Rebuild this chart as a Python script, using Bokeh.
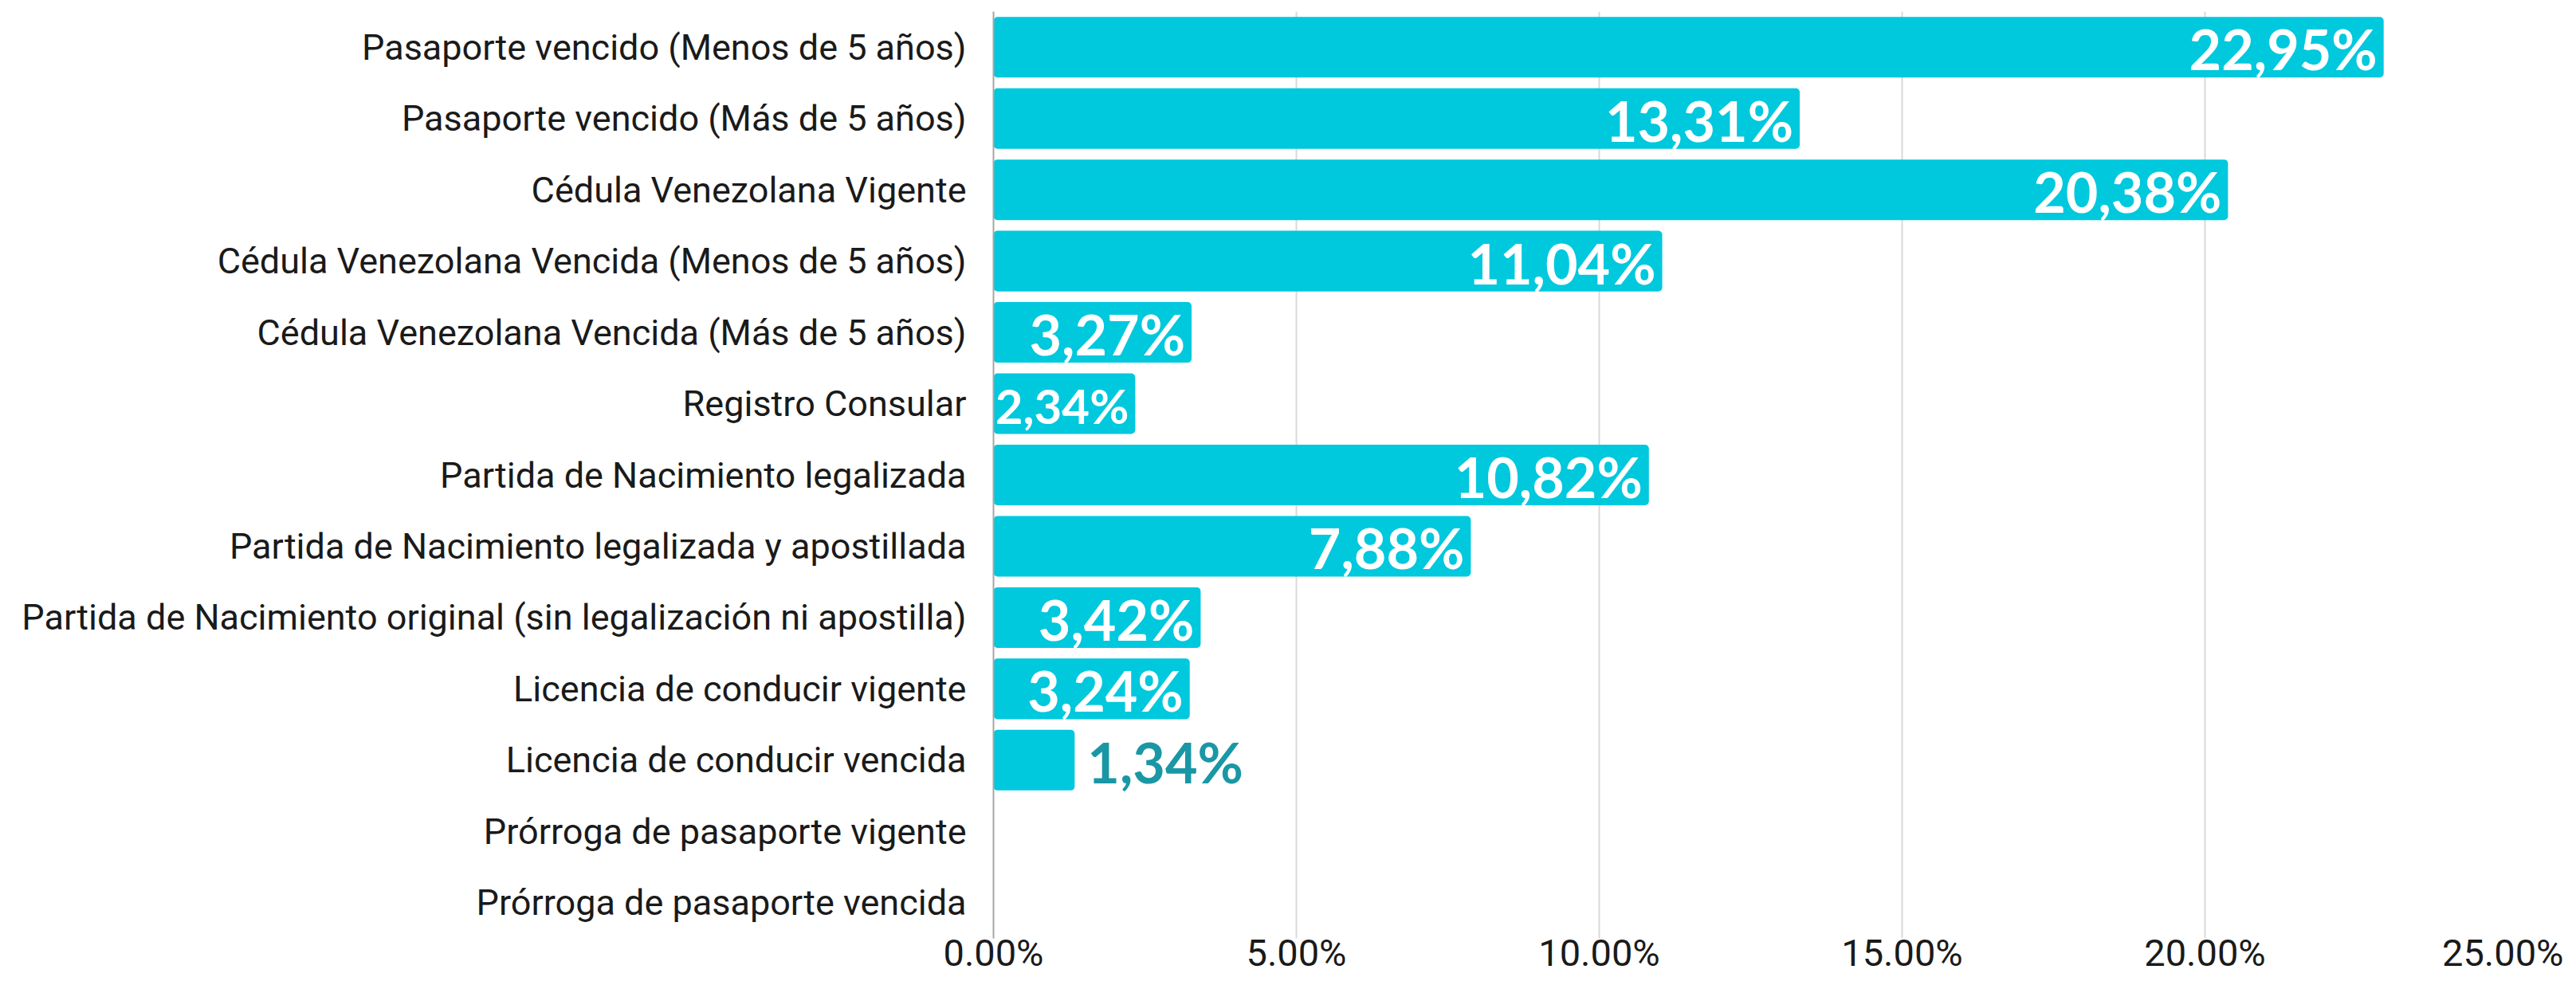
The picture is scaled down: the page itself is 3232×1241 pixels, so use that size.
from bokeh.plotting import figure
from bokeh.models import ColumnDataSource, FactorRange, FixedTicker, CustomJSTickFormatter
from bokeh.core.properties import value
from bokeh.embed import file_html
from bokeh.resources import INLINE

categories = [
    "Pasaporte vencido (Menos de 5 años)",
    "Pasaporte vencido (Más de 5 años)",
    "Cédula Venezolana Vigente",
    "Cédula Venezolana Vencida (Menos de 5 años)",
    "Cédula Venezolana Vencida (Más de 5 años)",
    "Registro Consular",
    "Partida de Nacimiento legalizada",
    "Partida de Nacimiento legalizada y apostillada",
    "Partida de Nacimiento original (sin legalización ni apostilla)",
    "Licencia de conducir vigente",
    "Licencia de conducir vencida",
    "Prórroga de pasaporte vigente",
    "Prórroga de pasaporte vencida",
]
values = [22.95, 13.31, 20.38, 11.04, 3.27, 2.34, 10.82, 7.88, 3.42, 3.24, 1.34, 0.0, 0.0]
x_ticks = [0, 5, 10, 15, 20, 25]

BAR = "#00C8DD"
TEAL = "#1A97A5"

p = figure(
    width=3216, height=1225,
    y_range=FactorRange(factors=list(reversed(categories))),
    x_range=(0, 25),
    output_backend="svg", toolbar_location=None,
    min_border_left=1246, min_border_right=70, min_border_top=14, min_border_bottom=0,
)
p.outline_line_color = None
p.background_fill_color = "white"
p.border_fill_color = "white"

src = ColumnDataSource(dict(cat=categories, val=values))
p.hbar(y="cat", right="val", left=0, height=0.85, source=src,
       fill_color=BAR, line_color=None, border_radius=5)

# labels
in_x, in_y, in_t, in_fs = [], [], [], []
out_x, out_y, out_t = [], [], []
for c, v in zip(categories, values):
    if v <= 0:
        continue
    t = f"{v:.2f}".replace(".", ",") + "%"
    if v < 2:
        out_x.append(v); out_y.append(c); out_t.append(t)
    else:
        in_x.append(v); in_y.append(c); in_t.append(t)
        in_fs.append("60px" if v < 3 else "70px")

p.text(x="x", y="y", text="t", source=ColumnDataSource(dict(x=in_x, y=in_y, t=in_t, fs=in_fs)),
       text_align="right", text_baseline="middle", x_offset=-8, y_offset=2,
       text_color="white", text_font=value("Lato"), text_font_style="bold",
       text_font_size="fs")
p.text(x="x", y="y", text="t", source=ColumnDataSource(dict(x=out_x, y=out_y, t=out_t)),
       text_align="left", text_baseline="middle", x_offset=16, y_offset=2,
       text_color=TEAL, text_font=value("Lato"), text_font_style="bold",
       text_font_size="70px")

# axes
p.xaxis.ticker = FixedTicker(ticks=x_ticks)
p.xaxis.formatter = CustomJSTickFormatter(code="return tick.toFixed(2) + '%';")
p.xaxis.axis_line_color = None
p.xaxis.major_tick_line_color = None
p.xaxis.minor_tick_line_color = None
p.xaxis.major_tick_out = 0
p.xaxis.major_tick_in = 0
p.xaxis.major_label_text_font = "Roboto"
p.xaxis.major_label_text_font_size = "47px"
p.xaxis.major_label_text_color = "#1a1a1a"
p.xaxis.major_label_standoff = -10

p.yaxis.axis_line_color = "#A6A6A6"
p.yaxis.axis_line_width = 2
p.yaxis.major_tick_line_color = None
p.yaxis.minor_tick_line_color = None
p.yaxis.major_tick_out = 0
p.yaxis.major_tick_in = 0
p.yaxis.major_label_text_font = "Roboto"
p.yaxis.major_label_text_font_size = "45px"
p.yaxis.major_label_text_color = "#1a1a1a"
p.yaxis.major_label_standoff = 34

p.xgrid.grid_line_color = "#D9D9D9"
p.xgrid.grid_line_width = 2
p.ygrid.grid_line_color = None

open("out.html", "w").write(file_html(p, INLINE))
